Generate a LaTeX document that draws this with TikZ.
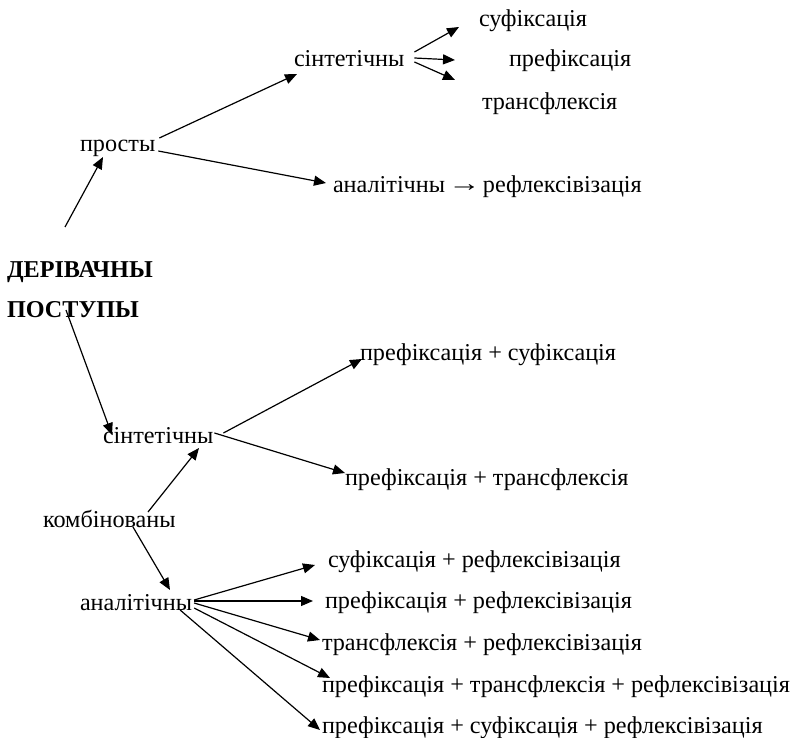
\documentclass[tikz,border=0pt]{standalone}
\usepackage{fontspec}
\setmainfont{Liberation Serif}
\usetikzlibrary{arrows.meta}
\begin{document}
\begin{tikzpicture}[x=1pt,y=-1pt,
  lbl/.style={anchor=base west,inner sep=0pt,outer sep=0pt,font=\fontsize{24.2}{29}\selectfont},
  ttl/.style={lbl,font=\fontsize{24.2}{29}\selectfont\bfseries},
  arr/.style={-{Triangle[length=12pt,width=10pt]},line width=1.2pt}]
\useasboundingbox (0,0) rectangle (795,738);
% nodes
\node[lbl] (sin1) at (294,67) {сінтетічны};
\node[lbl] (suf) at (479,27) {суфіксація};
\node[lbl] (pref) at (509,67) {префіксація};
\node[lbl] (trans) at (482,110) {трансфлексія};
\node[lbl] (prosty) at (80,152) {просты};
\node[lbl] (anal1) at (333,193) {аналітічны\kern-3pt\ \raisebox{1.5pt}{\scalebox{1.35}[1]{→}}\kern-4pt\ рефлексівізація};
\node[ttl] (der) at (7,277) {ДЕРІВАЧНЫ};
\node[ttl] (post) at (7,317) {ПОСТУПЫ};
\node[lbl] (ps) at (360,360) {префіксація + суфіксація};
\node[lbl] (sin2) at (103,443) {сінтетічны};
\node[lbl] (pt) at (345,485) {префіксація + трансфлексія};
\node[lbl] (komb) at (43,527) {комбінованы};
\node[lbl] (sr) at (328,567) {суфіксація + рефлексівізація};
\node[lbl] (anal2) at (80,610) {аналітічны};
\node[lbl] (pr) at (325,608) {префіксація + рефлексівізація};
\node[lbl] (tr) at (322,650) {трансфлексія + рефлексівізація};
\node[lbl] (ptr) at (322,692) {префіксація + трансфлексія + рефлексівізація};
\node[lbl] (psr) at (322,733) {префіксація + суфіксація + рефлексівізація};
% connectors
\draw[arr] ([shift={(58,-50)}]der.base west) -- ([shift={(23,5)}]prosty.base west);
\draw[arr] ([shift={(4,-14)}]prosty.base east) -- ([shift={(3,7)}]sin1.base west);
\draw[arr] ([shift={(3,-1)}]prosty.base east) -- ([shift={(-7,-10)}]anal1.base west);
\draw[arr] ([shift={(10,-15)}]sin1.base east) -- ([shift={(-20,0)}]suf.base west);
\draw[arr] ([shift={(10,-9)}]sin1.base east) -- ([shift={(-54,-7)}]pref.base west);
\draw[arr] ([shift={(10,-5)}]sin1.base east) -- ([shift={(-27,-30)}]trans.base west);
\draw[arr] ([shift={(59,-7)}]post.base west) -- ([shift={(9,-8)}]sin2.base west);
\draw[arr] ([shift={(10,-10)}]sin2.base east) -- ([shift={(2,-1)}]ps.base west);
\draw[arr] ([shift={(1,-10)}]sin2.base east) -- ([shift={(0,-12)}]pt.base west);
\draw[arr] ([shift={(105,-15)}]komb.base west) -- ([shift={(96,5)}]sin2.base west);
\draw[arr] ([shift={(90,0)}]komb.base west) -- ([shift={(90,-20)}]anal2.base west);
\draw[arr] ([shift={(2,-10)}]anal2.base east) -- ([shift={(-13,-2)}]sr.base west);
\draw[arr] ([shift={(2,-9)}]anal2.base east) -- ([shift={(-12,-7)}]pr.base west);
\draw[arr] ([shift={(2,-7)}]anal2.base east) -- ([shift={(-2,-10)}]tr.base west);
\draw[arr] ([shift={(2,-2)}]anal2.base east) -- ([shift={(8,-14)}]ptr.base west);
\draw[arr] ([shift={(-12,0)}]anal2.base east) -- ([shift={(-2,-3)}]psr.base west);
\end{tikzpicture}
\end{document}
